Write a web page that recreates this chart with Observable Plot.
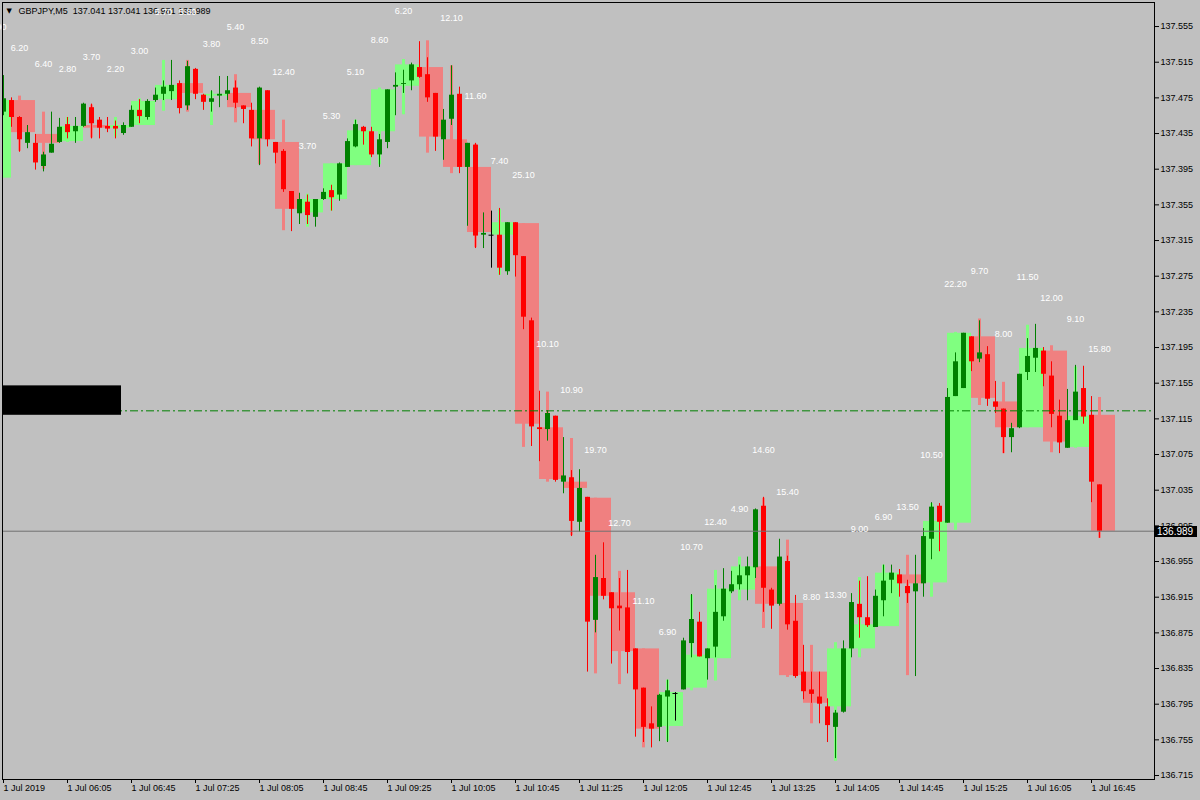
<!DOCTYPE html>
<html><head><meta charset="utf-8">
<script src="https://cdn.jsdelivr.net/npm/d3@7"></script>
<script src="https://cdn.jsdelivr.net/npm/@observablehq/plot@0.6"></script>
<style>
html,body{margin:0;padding:0;background:#c0c0c0;}
#chart{width:1200px;height:800px;overflow:hidden;}
</style></head><body><div id="chart"></div>
<script>
// ---- data (GBPJPY M5, 1 Jul 2019, bars from 05:25) ----
const symbol = "GBPJPY,M5";

const open = [137.459,137.472,137.453,137.424,137.424,137.398,137.413,137.425,137.445,137.437,
137.443,137.464,137.450,137.443,137.443,137.435,137.442,137.461,137.453,137.472,
137.479,137.482,137.491,137.466,137.507,137.478,137.470,137.477,137.479,137.486,
137.466,137.461,137.429,137.483,137.425,137.415,137.370,137.345,137.358,137.341,
137.361,137.371,137.366,137.397,137.420,137.442,137.437,137.411,137.425,137.487,
137.490,137.494,137.509,137.501,137.480,137.428,137.451,137.479,137.397,137.422,
137.321,137.321,137.321,137.280,137.335,137.297,137.225,137.105,137.103,137.118,
137.044,137.049,136.999,137.027,136.889,136.936,136.920,136.905,136.903,136.857,
136.813,136.773,136.769,136.803,136.807,136.811,136.863,136.887,136.846,136.859,
136.893,136.921,136.929,136.939,136.948,137.017,136.923,136.907,136.955,136.888,
136.831,136.811,136.803,136.792,136.769,136.786,136.857,136.907,136.892,136.881,
136.911,136.934,136.940,136.927,136.921,136.930,136.980,137.017,136.998,137.140,
137.149,137.207,137.182,137.187,137.134,137.126,137.094,137.105,137.167,137.183,
137.191,137.163,137.118,137.082,137.113,137.149,137.119,137.041];

const high = [137.500,137.475,137.454,137.444,137.434,137.414,137.459,137.452,137.453,137.453,
137.469,137.468,137.453,137.453,137.449,137.447,137.466,137.473,137.473,137.486,
137.494,137.517,137.494,137.516,137.508,137.479,137.483,137.499,137.499,137.494,
137.466,137.469,137.487,137.483,137.425,137.417,137.370,137.368,137.366,137.361,
137.373,137.377,137.402,137.429,137.450,137.443,137.442,137.434,137.484,137.503,
137.506,137.514,137.538,137.520,137.480,137.462,137.511,137.487,137.424,137.424,
137.346,137.348,137.351,137.335,137.335,137.297,137.228,137.146,137.124,137.118,
137.094,137.057,137.058,137.027,136.962,136.976,136.920,136.936,136.945,136.857,
136.813,136.792,136.806,136.822,136.808,136.869,136.918,136.898,136.857,136.928,
136.947,136.944,136.951,136.960,137.014,137.027,136.925,136.980,136.961,136.917,
136.861,136.831,136.831,136.801,136.788,136.866,136.919,136.933,136.938,136.923,
136.951,136.951,136.946,136.934,136.962,136.992,137.021,137.020,137.149,137.189,
137.211,137.207,137.225,137.196,137.157,137.126,137.110,137.165,137.205,137.221,
137.195,137.179,137.136,137.148,137.175,137.174,137.140,137.041];

const low = [137.455,137.442,137.414,137.418,137.394,137.392,137.413,137.424,137.429,137.424,
137.442,137.429,137.429,137.436,137.429,137.433,137.442,137.446,137.450,137.470,
137.472,137.472,137.457,137.461,137.473,137.461,137.459,137.464,137.472,137.463,
137.446,137.420,137.399,137.420,137.401,137.369,137.325,137.333,137.333,137.330,
137.360,137.348,137.359,137.397,137.419,137.422,137.408,137.397,137.418,137.455,
137.480,137.483,137.497,137.470,137.415,137.405,137.444,137.390,137.331,137.306,
137.306,137.284,137.276,137.276,137.274,137.215,137.084,137.067,137.090,137.044,
137.031,136.983,136.988,136.831,136.875,136.912,136.840,136.877,136.829,136.758,
136.752,136.746,136.753,136.752,136.776,136.811,136.847,136.848,136.822,136.847,
136.888,136.919,136.923,136.911,136.936,136.898,136.879,136.905,136.878,136.824,
136.800,136.796,136.773,136.752,136.734,136.785,136.847,136.869,136.881,136.881,
136.893,136.919,136.915,136.908,136.826,136.915,136.957,136.966,136.998,137.140,
137.149,137.168,137.178,137.129,137.121,137.076,137.077,137.104,137.158,137.167,
137.151,137.105,137.076,137.082,137.113,137.109,137.021,136.981];

const close = [137.474,137.453,137.428,137.436,137.402,137.411,137.423,137.442,137.436,137.443,
137.468,137.446,137.441,137.440,137.440,137.444,137.461,137.454,137.471,137.478,
137.487,137.489,137.463,137.510,137.479,137.470,137.474,137.479,137.483,137.469,
137.462,137.429,137.486,137.428,137.413,137.372,137.350,137.361,137.343,137.361,
137.369,137.363,137.401,137.426,137.445,137.437,137.411,137.428,137.484,137.489,
137.491,137.512,137.498,137.475,137.431,137.450,137.478,137.397,137.424,137.320,
137.323,137.321,137.284,137.335,137.298,137.229,137.106,137.103,137.121,137.046,
137.051,137.000,137.037,136.887,136.937,136.916,136.902,136.902,136.853,136.811,
136.769,136.767,136.805,136.810,136.807,136.866,136.890,136.848,136.857,136.898,
136.924,136.929,136.939,136.949,137.013,136.925,136.905,136.960,136.884,136.826,
136.809,136.806,136.795,136.771,136.785,136.857,136.909,136.892,136.883,136.916,
136.933,136.942,136.930,136.919,136.930,136.983,137.016,136.999,137.139,137.179,
137.211,137.179,137.189,137.137,137.128,137.094,137.104,137.165,137.185,137.194,
137.165,137.120,137.088,137.113,137.145,137.117,137.044,136.989];

// 15-minute boxes (group 0 ends with the first visible bar)
const m15Open = [137.385,137.472,137.434,137.426,137.444,137.441,137.444,137.473,137.491,137.477,
137.480,137.461,137.425,137.346,137.361,137.399,137.437,137.488,137.509,137.428,
137.397,137.321,137.334,137.105,137.044,137.026,136.920,136.857,136.770,136.813,
136.846,136.923,136.949,136.908,136.831,136.792,136.857,136.882,136.940,136.931,
136.998,137.207,137.134,137.105,137.191,137.083,137.119];
const m15High = [137.501,137.477,137.459,137.453,137.467,137.453,137.474,137.517,137.517,137.482,
137.501,137.485,137.450,137.367,137.401,137.450,137.486,137.518,137.539,137.511,
137.423,137.350,137.334,137.145,137.093,137.026,136.944,136.857,136.822,136.917,
136.945,136.960,137.026,136.979,136.861,136.864,136.937,136.951,136.962,137.020,
137.212,137.227,137.156,137.220,137.197,137.173,137.139];
const m15Low = [137.382,137.415,137.395,137.425,137.430,137.431,137.444,137.460,137.459,137.444,
137.447,137.400,137.326,137.330,137.348,137.399,137.400,137.456,137.413,137.390,
137.307,137.276,137.083,137.044,136.984,136.829,136.817,136.746,136.753,136.810,
136.821,136.911,136.880,136.825,136.773,136.731,136.847,136.882,136.827,136.915,
136.990,137.130,137.076,137.105,137.077,137.082,136.981];
const m15Close = [137.472,137.436,137.424,137.443,137.441,137.444,137.471,137.489,137.480,137.479,
137.464,137.428,137.350,137.361,137.401,137.438,137.484,137.512,137.431,137.397,
137.324,137.335,137.109,137.047,137.037,136.916,136.854,136.767,136.808,136.850,
136.924,136.949,136.907,136.827,136.796,136.857,136.884,136.942,136.930,137.000,
137.211,137.138,137.105,137.194,137.089,137.118,136.989];

const tickBars = [0,8,16,24,32,40,48,56,64,72,80,88,96,104,112,120,128,136];
const tickLabels = ["1 Jul 2019","1 Jul 06:05","1 Jul 06:45","1 Jul 07:25","1 Jul 08:05","1 Jul 08:45",
"1 Jul 09:25","1 Jul 10:05","1 Jul 10:45","1 Jul 11:25","1 Jul 12:05","1 Jul 12:45","1 Jul 13:25",
"1 Jul 14:05","1 Jul 14:45","1 Jul 15:25","1 Jul 16:05","1 Jul 16:45"];
const priceTicks = [137.555,137.515,137.475,137.435,137.395,137.355,137.315,137.275,137.235,137.195,
137.155,137.115,137.075,137.035,136.995,136.955,136.915,136.875,136.835,136.795,136.755,136.715];

const levelLine = [137.124];
const bidPrice = 136.989;
const blackBox = [{fromBar: -1, toBar: 14.75, top: 137.152, bottom: 137.119}];

// ---- build ----
const FONT = "'Liberation Sans', Arial, sans-serif";
const bull = "#008000", bear = "#ff0000", flat = "#000000";
const bullBox = "#80ff80", bearBox = "#f08080";

const bars = open.map((o, i) => ({i, open: o, high: high[i], low: low[i], close: close[i]}));
const groups = m15Open.map((o, g) => ({g, open: o, high: m15High[g], low: m15Low[g], close: m15Close[g]}));
const candleColor = d => d.close > d.open ? bull : d.close < d.open ? bear : flat;
const boxColor = d => d.close >= d.open ? bullBox : bearBox;
const last = bars[bars.length - 1];
const title = `${symbol}\u00a0\u00a0${last.open.toFixed(3)} ${last.high.toFixed(3)} ${last.low.toFixed(3)} ${last.close.toFixed(3)}`;

const bidMark = (index, scales, values, dimensions) => {
  const ns = "http://www.w3.org/2000/svg";
  const g = document.createElementNS(ns, "g");
  const y = Math.round(scales.y(bidPrice));
  const x0 = dimensions.width - dimensions.marginRight;
  const r = document.createElementNS(ns, "rect");
  r.setAttribute("x", x0 + 1); r.setAttribute("y", y - 5);
  r.setAttribute("width", 42); r.setAttribute("height", 11);
  r.setAttribute("fill", "black");
  g.appendChild(r);
  const t = document.createElementNS(ns, "text");
  t.setAttribute("x", x0 + 3); t.setAttribute("y", y + 4);
  t.setAttribute("fill", "white");
  t.setAttribute("text-anchor", "start");
  t.setAttribute("font-size", "10px");
  t.setAttribute("font-family", FONT);
  t.textContent = bidPrice.toFixed(3);
  g.appendChild(t);
  return g;
};

const chart = Plot.plot({
  width: 1200,
  height: 800,
  marginTop: 2,
  marginRight: 46,
  marginBottom: 21,
  marginLeft: 2,
  style: {background: "#c0c0c0", fontFamily: FONT, fontSize: "9px", color: "black", overflow: "visible"},
  x: {type: "linear", domain: [-0.125, 143.875], label: null},
  y: {type: "linear", domain: [136.71054, 137.58196], label: null},
  marks: [
    Plot.rect(groups, {x1: d => 3 * d.g - 2, x2: d => 3 * d.g + 1, y1: "open", y2: "close", fill: boxColor, clip: true}),
    Plot.ruleX(groups, {x: d => 3 * d.g - 1, y1: "low", y2: "high", stroke: boxColor, strokeWidth: 3, clip: true}),
    Plot.ruleX(bars, {x: "i", y1: "low", y2: "high", stroke: candleColor, strokeWidth: 1, clip: true}),
    Plot.ruleX(bars.filter(d => d.open !== d.close), {x: "i", y1: "open", y2: "close", stroke: candleColor, strokeWidth: 5, clip: true}),
    Plot.ruleY(bars.filter(d => d.open === d.close), {y: "open", x1: d => d.i - 0.3125, x2: d => d.i + 0.3125, stroke: flat, clip: true}),
    Plot.ruleY(levelLine, {stroke: "#008000", strokeDasharray: "8,3,2,3"}),
    Plot.ruleY([bidPrice], {stroke: "#707070"}),
    Plot.rect(blackBox, {x1: "fromBar", x2: "toBar", y1: "bottom", y2: "top", fill: "black", clip: true}),
    Plot.text([title], {frameAnchor: "top-left", text: d => d, dx: 16, dy: 9, textAnchor: "start", lineAnchor: "middle", fill: "black", fontSize: 9, fontFamily: FONT}),
    Plot.text(["\u25BC"], {frameAnchor: "top-left", text: d => d, dx: 4, dy: 8, textAnchor: "start", lineAnchor: "middle", fill: "black", fontSize: 7, fontFamily: "'DejaVu Sans', sans-serif"}),
    Plot.text(groups, {x: d => 3 * d.g - 1, y: "high", dy: -48, text: d => ((d.high - d.low) * 100).toFixed(2), fill: "white", fontSize: 9, fontFamily: FONT}),
    Plot.frame({stroke: "black"}),
    Plot.axisY({anchor: "right", ticks: priceTicks, tickFormat: d => d.toFixed(3), tickSize: 4, tickPadding: 2, label: null, fontSize: 9}),
    Plot.axisX({anchor: "bottom", ticks: tickBars, tickFormat: d => tickLabels[tickBars.indexOf(d)], tickSize: 4, tickPadding: 1, textAnchor: "start", label: null, fontSize: 9}),
    bidMark
  ]
});
document.getElementById("chart").appendChild(chart);
</script></body></html>
